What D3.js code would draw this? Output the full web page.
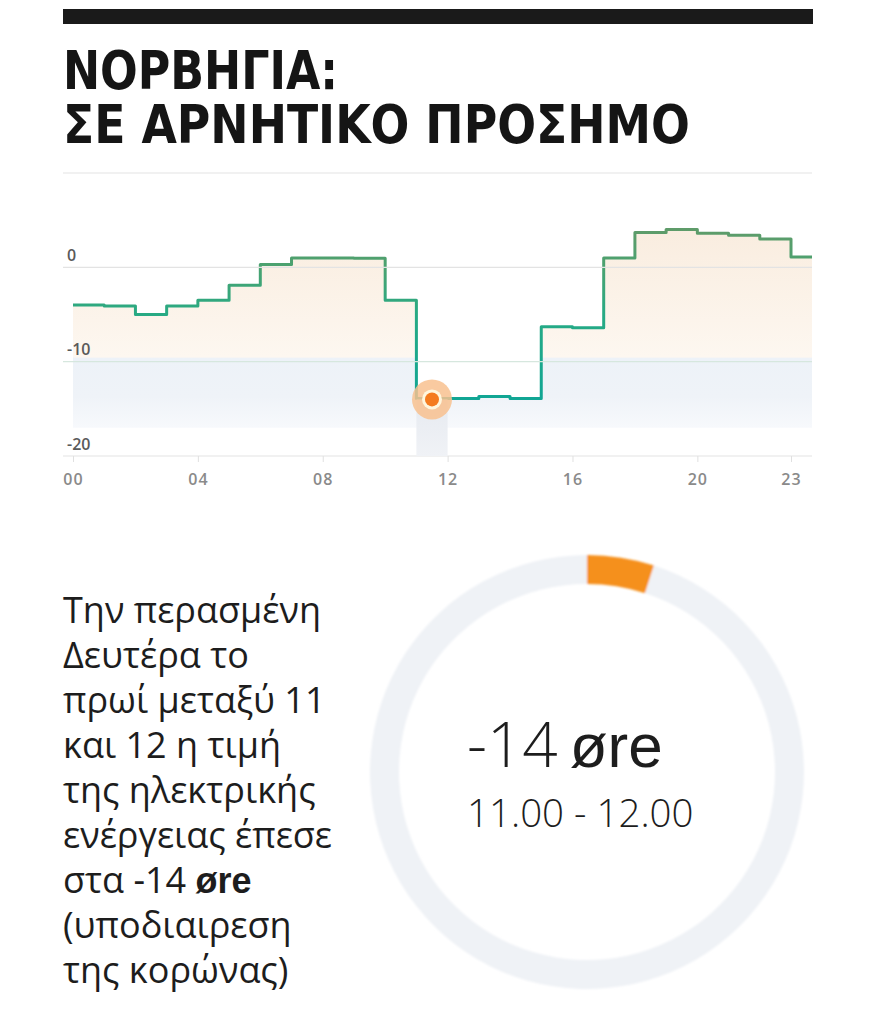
<!DOCTYPE html>
<html>
<head>
<meta charset="utf-8">
<script src="https://cdn.jsdelivr.net/npm/d3@7"></script>
<style>
  html, body { margin: 0; padding: 0; background: #fff; }
  svg { display: block; }
</style>
</head>
<body>
<svg id="chart" width="880" height="1009"></svg>
<script>
// hourly price, Norway, øre per kWh
const hours = [0, 1, 2, 3, 4, 5, 6, 7, 8, 9, 10, 11, 12, 13, 14, 15, 16, 17, 18, 19, 20, 21, 22, 23];
const prices = [-4.0, -4.1, -5.0, -4.1, -3.5, -1.9, 0.3, 1.0, 1.0, 0.95, -3.5, -13.9, -13.9, -13.7, -13.9, -6.3, -6.4, 1.0, 3.7, 4.0, 3.6, 3.4, 3.0, 1.1];

const yTicks = [0, -10, -20];
const gridValues = [10, 0, -10, -20];
const xTicks = [0, 4, 8, 12, 16, 20, 23];

// highlighted hour
const focusHour = 11;
const focusPrice = -14;

// ring: share of the circle that is coloured
const ringParts = [
  { key: "hour", share: 0.05 },
  { key: "rest", share: 0.95 }
];

const titleLines = ["ΝΟΡΒΗΓΙΑ:", "ΣΕ ΑΡΝΗΤΙΚΟ ΠΡΟΣΗΜΟ"];
const bodyLines = [
  "Την περασμένη",
  "Δευτέρα το",
  "πρωί μεταξύ 11",
  "και 12 η τιμή",
  "της ηλεκτρικής",
  "ενέργειας έπεσε",
  "στα -14 |øre",
  "(υποδιαιρεση",
  "της κορώνας)"
];
const bigValue = "-14";
const bigUnit = "øre";
const timeRange = "11.00 - 12.00";

const svg = d3.select("#chart");
const defs = svg.append("defs");

// header bar + title
svg.append("rect")
  .attr("x", 63).attr("y", 9)
  .attr("width", 750).attr("height", 15)
  .attr("fill", "#1a1a1a");

const titleWidths = [275, 627];
svg.append("g")
  .selectAll("text")
  .data(titleLines)
  .join("text")
  .attr("x", 63)
  .attr("y", (d, i) => 89 + i * 54)
  .attr("textLength", (d, i) => titleWidths[i])
  .attr("lengthAdjust", "spacingAndGlyphs")
  .attr("font-family", "'Liberation Sans Narrow', 'DejaVu Sans Condensed', 'Liberation Sans', sans-serif")
  .attr("font-weight", 700)
  .attr("font-size", 54)
  .attr("fill", "#151515")
  .text((d) => d);

// ---- step chart ----
const left = 63, right = 812;
const x = d3.scaleLinear().domain([0, 23]).range([73, 791]);
const y = d3.scaleLinear().domain([-20, 10]).range([456, 173]);

defs.append("clipPath").attr("id", "plotClip")
  .append("rect")
  .attr("x", left).attr("y", 160)
  .attr("width", right - left).attr("height", 310);

const series = hours.map((h, i) => ({ h, v: prices[i] }));
// closing step so the last hour gets its full width
const stepped = series.concat([{ h: 24, v: prices[prices.length - 1] }]);

// area fill gradient
const areaGrad = defs.append("linearGradient")
  .attr("id", "areaGrad")
  .attr("gradientUnits", "userSpaceOnUse")
  .attr("x1", 0).attr("x2", 0)
  .attr("y1", y(5)).attr("y2", y(-17));
[
  [0, "#f9ecde", 1],
  [0.66, "#fdf7f0", 1],
  [0.665, "#edf2f8", 1],
  [0.85, "#eff3f8", 1],
  [1, "#f7f9fc", 1]
].forEach(([o, c, a]) => areaGrad.append("stop")
  .attr("offset", o).attr("stop-color", c).attr("stop-opacity", a));

const lineGrad = defs.append("linearGradient")
  .attr("id", "lineGrad")
  .attr("gradientUnits", "userSpaceOnUse")
  .attr("x1", 0).attr("x2", 0)
  .attr("y1", y(5)).attr("y2", y(-15));
[
  [0, "#639a68"],
  [0.25, "#4aa270"],
  [0.5, "#27aa84"],
  [1, "#0ea596"]
].forEach(([o, c]) => lineGrad.append("stop").attr("offset", o).attr("stop-color", c));

const plot = svg.append("g").attr("clip-path", "url(#plotClip)");

plot.append("path")
  .datum(stepped)
  .attr("fill", "url(#areaGrad)")
  .attr("d", d3.area()
    .curve(d3.curveStepAfter)
    .x((d) => x(d.h))
    .y0(y(-17))
    .y1((d) => y(d.v)));

// grid lines
svg.append("g")
  .selectAll("line")
  .data(gridValues)
  .join("line")
  .attr("x1", left).attr("x2", right)
  .attr("y1", (d) => y(d)).attr("y2", (d) => y(d))
  .attr("stroke", (d) => (d === -10 ? "#d6e7de" : "#e3e3e3"))
  .attr("stroke-width", 1.2);

// hover column under the highlighted hour
const colGrad = defs.append("linearGradient")
  .attr("id", "colGrad")
  .attr("x1", 0).attr("x2", 0).attr("y1", 0).attr("y2", 1);
colGrad.append("stop").attr("offset", 0).attr("stop-color", "#e6eaf0");
colGrad.append("stop").attr("offset", 1).attr("stop-color", "#f0f2f6");
svg.append("rect")
  .attr("x", x(focusHour))
  .attr("y", y(focusPrice))
  .attr("width", x(focusHour + 1) - x(focusHour))
  .attr("height", y(-20) - y(focusPrice))
  .attr("fill", "url(#colGrad)");

plot.append("path")
  .datum(stepped)
  .attr("fill", "none")
  .attr("stroke", "url(#lineGrad)")
  .attr("stroke-width", 3)
  .attr("stroke-linejoin", "round")
  .attr("d", d3.line()
    .curve(d3.curveStepAfter)
    .x((d) => x(d.h))
    .y((d) => y(d.v)));

// y labels sit above their grid line
const yAxis = svg.append("g")
  .attr("transform", `translate(${left + 4},0)`)
  .call(d3.axisRight(y).tickValues(yTicks).tickSize(0).tickFormat((d) => String(d)));
yAxis.select(".domain").remove();
yAxis.selectAll("text")
  .attr("x", 0).attr("dy", -7)
  .attr("text-anchor", "start")
  .attr("font-family", "'Open Sans', 'Noto Sans', sans-serif")
  .attr("font-weight", 600)
  .attr("font-size", 16)
  .attr("fill", "#5a5a5a");

// x axis
const xAxis = svg.append("g")
  .attr("transform", `translate(0,${y(-20)})`)
  .call(d3.axisBottom(x).tickValues(xTicks).tickSize(6).tickPadding(12).tickFormat(d3.format("02d")));
xAxis.select(".domain").remove();
xAxis.selectAll("line").attr("stroke", "#e0e0e0");
xAxis.selectAll("text")
  .attr("font-family", "'Open Sans', 'Noto Sans', sans-serif")
  .attr("font-weight", 600)
  .attr("font-size", 16)
  .attr("letter-spacing", 1)
  .attr("fill", "#8a8a8a");

// highlighted point
const fx = x(focusHour + 0.5), fy = y(focusPrice);
svg.append("circle").attr("cx", fx).attr("cy", fy).attr("r", 20).attr("fill", "#f8c18f").attr("opacity", 0.85);
svg.append("circle").attr("cx", fx).attr("cy", fy).attr("r", 10).attr("fill", "#fff6dd");
svg.append("circle").attr("cx", fx).attr("cy", fy).attr("r", 7).attr("fill", "#f47b1f");

// ---- ring ----
const cx = 587, cy = 772;
defs.append("filter").attr("id", "soft")
  .append("feGaussianBlur").attr("stdDeviation", 1.2);

const pie = d3.pie().sort(null).value((d) => d.share);
const arc = d3.arc().innerRadius(188).outerRadius(217);
svg.append("g")
  .attr("transform", `translate(${cx},${cy})`)
  .attr("filter", "url(#soft)")
  .selectAll("path")
  .data(pie(ringParts))
  .join("path")
  .attr("d", arc)
  .attr("fill", (d) => (d.data.key === "hour" ? "#f5901f" : "#eff2f6"));

const valText = svg.append("text")
  .attr("x", 467).attr("y", 767)
  .attr("font-size", 62)
  .attr("fill", "#1d1d1d");
valText.append("tspan")
  .attr("font-family", "'Open Sans', 'Noto Sans', sans-serif")
  .attr("font-weight", 300)
  .text(bigValue);
valText.append("tspan")
  .attr("dx", 12)
  .attr("font-family", "'Liberation Sans', Arial, sans-serif")
  .text(bigUnit);

svg.append("text")
  .attr("x", 467).attr("y", 827)
  .attr("font-family", "'Open Sans', 'Noto Sans', sans-serif")
  .attr("font-weight", 300)
  .attr("font-size", 38.5)
  .attr("fill", "#1d1d1d")
  .text(timeRange);

// ---- body copy ----
const body = svg.append("g")
  .attr("font-family", "'Open Sans', 'Noto Sans', sans-serif")
  .attr("font-size", 36)
  .attr("fill", "#1d1d1d");
body.selectAll("text")
  .data(bodyLines)
  .join("text")
  .attr("x", 63)
  .attr("y", (d, i) => 623 + i * 45)
  .each(function (d) {
    const parts = d.split("|");
    const t = d3.select(this);
    t.append("tspan").text(parts[0]);
    if (parts[1]) {
      t.append("tspan")
        .attr("font-family", "'Liberation Sans', Arial, sans-serif")
        .attr("font-weight", 700)
        .text(parts[1]);
    }
  });
</script>
</body>
</html>
